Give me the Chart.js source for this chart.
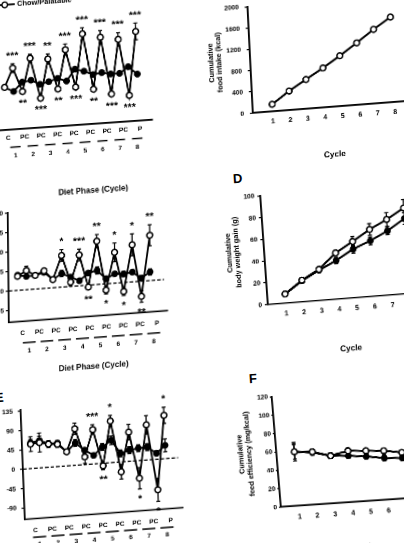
<!DOCTYPE html>
<html><head><meta charset="utf-8">
<script src="https://cdn.jsdelivr.net/npm/chart.js@4.4.1/dist/chart.umd.min.js"></script>
<style>
html,body{margin:0;padding:0;background:#fff;}
body{width:404px;height:543px;overflow:hidden;position:relative;font-family:'Liberation Sans',Arial,sans-serif;}
.pnl{position:absolute;}
.pnl canvas{display:block;}
.lab{position:absolute;font-weight:bold;font-size:13px;line-height:13px;color:#000;transform:rotate(-4deg);}
</style></head><body>
<div class="lab" style="left:233px;top:172px">D</div>
<div class="lab" style="left:-4.7px;top:390.5px">E</div>
<div class="lab" style="left:249px;top:371.5px">F</div>
<script>
// ---------- DATA ----------
const phaseCategories = ['C','P','C','P','C','P','C','P','C','P','C','P','C','P','C','P'];
const phaseTickLabels = ['C','PC','PC','PC','PC','PC','PC','PC','P'];
const cycleTickLabels = ['1','2','3','4','5','6','7','8'];
const cycles = [1,2,3,4,5,6,7,8];
const phaseIndex = phaseCategories.map((_, i) => i);

// Panel A (intake per diet phase; y axis cropped in source)
const aPalatable    = [64,92,56,105,44,102,56,114,57,136,52,129,43,124,39,134];
const aPalatableErr = [3,6.5,3,6,2,7.5,3,8.5,3,9,3,10,3,10,3,12.5];
const aChow         = [64,57,70,72,65,68,72,67,84,80,74,76,73,73,82,70];
const aChowErr      = [3,3,3,3,3,3,3,3,3,3,3,3,3,3,3,3];
const aSig          = ['','***','**','***','***','**','**','***','***','***','**','***','***','***','***','***'];

// Panel C
const cPalatable    = [3.6,4.9,3.5,4.5,2.1,8.1,1.1,7.9,-0.5,11.1,-1.6,7.9,-2.3,9.5,-3.9,11.6];
const cPalatableErr = [0.6,1.1,0.5,0.6,0.5,1.5,0.9,1.5,0.6,1.7,1.0,2.4,1.0,2.8,1.5,2.7];
const cChow         = [3.9,3.4,3.5,4.1,2.1,3.5,2.4,1.3,3.1,3.6,1.3,2.4,2.2,2.5,0.8,2.2];
const cChowErr      = [0.6,0.6,0.5,0.6,0.5,0.8,0.6,0.6,0.6,0.9,0.7,0.6,0.7,0.6,0.7,0.8];
const cSig          = ['','','','','','*','','***','**','**','*','*','*','*','**','**'];
const cYTicks       = [-5,0,5,10,15,20];

// Panel E
const ePalatable    = [57,59,54,52,33,85,18,80,-6,97,-23,68,-41,82,-71,101];
const ePalatableErr = [17,22,8,7,5,13,15,11.5,9,13,17,18,25,21.5,27,19];
const eChow         = [60,64,55,55,33,52,34,20,38,52,20,26,29,30,14,31];
const eChowErr      = [8,10,6,6,4,8,6,6,8,10,8,8,8,8,6,15];
const eSig          = ['','','','','','','','***','**','*','','','*','','*','*'];
const eYTicks       = [-90,-45,0,45,90,135];

// Panel B – cumulative food intake (kcal)
const bPalatable    = [136,360,553,744,950,1167,1396,1603];
const bYTicks       = [0,400,800,1200,1600,2000];

// Panel D – cumulative body weight gain (g)
const dPalatable    = [8.4,19.8,28.6,42.4,51.7,61.5,69.4,78.7];
const dPalatableErr = [1,1,1.5,2,4.5,5.4,6.3,7.8];
const dChow         = [8.2,19.2,27.7,35.5,44.7,51.1,58.9,69];
const dChowErr      = [1,1,1.5,3,3.6,3.6,3.6,5.4];
const dYTicks       = [0,20,40,60,80,100];

// Panel F – cumulative feed efficiency (mg/kcal)
const fPalatable    = [58.9,57.5,51.9,56,54.7,53.4,50.3,50];
const fPalatableErr = [10,3,3,3,3,3,3,3];
const fChow         = [58.9,56.8,51.9,50.6,48.5,45.5,44.2,44];
const fChowErr      = [8,3,3,3,3,3,3,3];
const fYTicks       = [0,20,40,60,80,100,120];

// ---------- SETUP ----------
const FAMILY = "'Liberation Sans', Arial, Helvetica, sans-serif";
const K = '#000';
Chart.defaults.font.family = FAMILY;
Chart.defaults.font.weight = 'bold';
Chart.defaults.font.size = 7;
Chart.defaults.color = K;
Chart.defaults.animation = false;

const annotPlugin = {
  id: 'annot',
  beforeDatasetsDraw(chart) {
    const an = chart.canvas._annot; if (!an) return;
    const ctx = chart.ctx, a = chart.chartArea, ys = chart.scales.y;
    ctx.save();
    ctx.strokeStyle = K;
    if (an.zeroLine) {
      const y0 = ys.getPixelForValue(0);
      ctx.setLineDash([3.5, 2]); ctx.lineWidth = 1.3;
      ctx.beginPath(); ctx.moveTo(a.left, y0); ctx.lineTo(a.right - 3, y0); ctx.stroke();
      ctx.setLineDash([]);
    }
    chart.data.datasets.forEach((ds, di) => {
      if (!ds.errors) return;
      const meta = chart.getDatasetMeta(di);
      ctx.lineWidth = 1.2;
      meta.data.forEach((el, i) => {
        const e = ds.errors[i]; if (!e) return;
        const v = ds.data[i].y;
        const yt = ys.getPixelForValue(v + e), yb = ys.getPixelForValue(v - e);
        const cp = 2;
        ctx.beginPath();
        ctx.moveTo(el.x, yt); ctx.lineTo(el.x, yb);
        ctx.moveTo(el.x - cp, yt); ctx.lineTo(el.x + cp, yt);
        ctx.moveTo(el.x - cp, yb); ctx.lineTo(el.x + cp, yb);
        ctx.stroke();
      });
    });
    ctx.restore();
  },
  afterDraw(chart) {
    const an = chart.canvas._annot; if (!an) return;
    const ctx = chart.ctx, a = chart.chartArea, ys = chart.scales.y;
    ctx.save();
    ctx.fillStyle = K; ctx.strokeStyle = K;
    chart.data.datasets.forEach((ds, di) => {
      if (!ds.sig) return;
      const ref = chart.data.datasets[ds.sigRef];
      const meta = chart.getDatasetMeta(di);
      ctx.font = 'bold 10.5px ' + FAMILY;
      ctx.textAlign = 'center'; ctx.textBaseline = 'alphabetic';
      meta.data.forEach((el, i) => {
        const s = ds.sig[i]; if (!s) return;
        const v = ds.data[i].y, e = (ds.errors && ds.errors[i]) || 0;
        const above = v > ref.data[i].y;
        const yc = above ? ys.getPixelForValue(v + e) - 11 : ys.getPixelForValue(v - e) + 7;
        ctx.fillText(s, el.x, yc + 6);
      });
    });
    if (an.underline) {
      const u = an.underline, sc = chart.scales[u.scale];
      ctx.lineWidth = 1.4;
      u.values.forEach(n => {
        const x1 = sc.getPixelForValue(n - u.half), x2 = sc.getPixelForValue(n + u.half);
        const y = a.bottom + u.dy;
        ctx.beginPath(); ctx.moveTo(x1, y); ctx.lineTo(x2, y); ctx.stroke();
      });
    }
    if (an.legend) {
      const L = an.legend, y = a.bottom + L.v;
      ctx.lineWidth = 1.8;
      ctx.beginPath(); ctx.moveTo(a.left + L.u0, y); ctx.lineTo(a.left + L.u1, y); ctx.stroke();
      ctx.beginPath(); ctx.arc(a.left + L.uc, y, 2.8, 0, Math.PI * 2);
      ctx.fillStyle = '#fff'; ctx.fill(); ctx.lineWidth = 1.4; ctx.stroke();
      ctx.fillStyle = K;
      ctx.font = 'bold ' + L.size + 'px ' + FAMILY;
      ctx.textAlign = 'left'; ctx.textBaseline = 'middle';
      ctx.fillText(L.text, a.left + L.tu, y);
    }
    (an.texts || []).forEach(t => {
      ctx.font = 'bold ' + t.size + 'px ' + FAMILY;
      ctx.textAlign = 'center'; ctx.textBaseline = 'middle';
      ctx.fillText(t.text, a.left + t.u, a.bottom + t.v);
    });
    ctx.restore();
  }
};
Chart.register(annotPlugin);

function lineDS(label, values, errors, xs, open, extra) {
  return Object.assign({
    label,
    data: values.map((y, i) => ({ x: xs[i], y })),
    errors,
    borderColor: K,
    backgroundColor: open ? '#fff' : K,
    borderWidth: 1.8,
    pointRadius: 2.9,
    pointBorderWidth: open ? 1.5 : 1,
    pointBackgroundColor: open ? '#fff' : K,
    pointBorderColor: K,
    tension: 0,
    fill: false
  }, extra || {});
}

function mountPanel(g, config, annot) {
  const W = Math.ceil(g.padL + g.Wy + g.Pw + g.padR), H = Math.ceil(g.padT + g.Ph + g.Hx + g.padB);
  const pr = W - (g.padL + g.Wy + g.Pw), pb = H - (g.padT + g.Ph + g.Hx);
  const ox = g.padL + g.Wy, oy = g.padT + g.Ph;
  const div = document.createElement('div'); div.className = 'pnl';
  div.style.left = (g.O[0] - ox) + 'px'; div.style.top = (g.O[1] - oy) + 'px';
  div.style.width = W + 'px'; div.style.height = H + 'px';
  div.style.transformOrigin = ox + 'px ' + oy + 'px';
  div.style.transform = 'matrix(1,' + g.b + ',' + g.c + ',1,0,0)';
  const cv = document.createElement('canvas');
  cv.width = W; cv.height = H; cv.style.width = W + 'px'; cv.style.height = H + 'px';
  div.appendChild(cv); document.body.appendChild(div);
  cv._annot = annot;
  config.options = config.options || {};
  config.options.layout = { autoPadding: false, padding: { left: g.padL, top: g.padT, right: pr, bottom: pb } };
  config.options.responsive = false;
  config.options.devicePixelRatio = 2;
  config.options.animation = false;
  config.options.plugins = { legend: { display: false }, tooltip: { enabled: false } };
  return new Chart(cv, config);
}

function dataAxis(min, max) {
  return { type: 'linear', position: 'bottom', min, max, weight: 0,
    grid: { display: false, drawTicks: false }, border: { display: true, width: 1.6, color: K },
    ticks: { display: false }, afterFit: s => { s.height = 0; } };
}
function phaseAxis(min, max, pad, h) {
  return { type: 'linear', axis: 'x', position: 'bottom', min, max, weight: 1,
    grid: { display: false, drawTicks: false }, border: { display: false },
    afterBuildTicks: s => { s.ticks = phaseTickLabels.map((_, i) => ({ value: i })); },
    ticks: { autoSkip: false, maxRotation: 0, padding: pad, font: { size: 6.5 },
      callback: v => phaseTickLabels[Math.round(v)] },
    afterFit: s => { s.height = h; } };
}
function cycleAxis(min, max, pad, h) {
  return { type: 'linear', axis: 'x', position: 'bottom', min, max, weight: 2,
    grid: { display: false, drawTicks: false }, border: { display: false },
    afterBuildTicks: s => { s.ticks = cycles.map(v => ({ value: v })); },
    ticks: { autoSkip: false, maxRotation: 0, padding: pad, font: { size: 6.5 },
      callback: v => cycleTickLabels[Math.round(v) - 1] },
    afterFit: s => { s.height = h; } };
}
function yAxis(min, max, tickVals, w, tl, pad, title) {
  return { type: 'linear', position: 'left', min, max,
    afterBuildTicks: s => { s.ticks = tickVals.map(v => ({ value: v })); },
    grid: { display: true, drawOnChartArea: false, drawTicks: true, tickLength: tl, color: K, lineWidth: 1.1 },
    border: { display: true, width: 1.6, color: K },
    ticks: { padding: pad, font: { size: 6.5 }, callback: v => String(v) },
    title: title ? { display: true, text: title.text, font: { size: 7.3, weight: 'bold', lineHeight: title.lh },
      padding: { top: 1, bottom: 0 }, color: K } : { display: false },
    afterFit: s => { s.width = w; } };
}
function cycleDataAxis(min, max, pad, h) {
  return { type: 'linear', position: 'bottom', min, max,
    grid: { display: false, drawTicks: false }, border: { display: true, width: 1.6, color: K },
    afterBuildTicks: s => { s.ticks = cycles.map(v => ({ value: v })); },
    ticks: { autoSkip: false, maxRotation: 0, padding: pad, font: { size: 7 }, callback: v => String(v) },
    title: { display: true, text: 'Cycle', font: { size: 8.2, weight: 'bold' }, padding: { top: 0, bottom: 2.2 }, color: K },
    afterFit: s => { s.height = h; } };
}

// ---------- PANEL A ----------
mountPanel({ O: [-6.7, 130.6], Pw: 159.5, Ph: 120, Wy: 0, Hx: 36, padL: 4, padT: 12, padR: 4, padB: 35, b: -0.07, c: 0.04 }, {
  type: 'line',
  data: { datasets: [
    lineDS('Chow/Palatable', aPalatable, aPalatableErr, phaseIndex, true, { sig: aSig, sigRef: 1 }),
    lineDS('Chow/Chow', aChow, aChowErr, phaseIndex, false)
  ] },
  options: { scales: {
    x: dataAxis(-1.5, 16.5),
    xl: phaseAxis(-0.91, 8.78, 4.2, 16),
    xn: cycleAxis(-0.247, 8.92, 6.1, 20),
    y: { type: 'linear', display: false, min: 0, max: 180 }
  } }
}, {
  underline: { scale: 'xn', values: cycles, half: 0.3, dy: 17.5 },
  legend: { u0: 11.7, u1: 26.7, uc: 16.7, tu: 29, v: -125, text: 'Chow/Palatable', size: 7.4 },
  texts: [{ text: 'Diet Phase (Cycle)', u: 97.6, v: 66.5, size: 8 }]
});

// ---------- PANEL C ----------
mountPanel({ O: [9.3, 321.7], Pw: 158.4, Ph: 109.2, Wy: 30, Hx: 38, padL: 2, padT: 8, padR: 4, padB: 17, b: -0.074, c: 0.01 }, {
  type: 'line',
  data: { datasets: [
    lineDS('Chow/Palatable', cPalatable, cPalatableErr, phaseIndex, true, { sig: cSig, sigRef: 1 }),
    lineDS('Chow/Chow', cChow, cChowErr, phaseIndex, false)
  ] },
  options: { scales: {
    x: dataAxis(-1.02, 16.92),
    xl: phaseAxis(-0.80, 8.63, 8.2, 18),
    xn: cycleAxis(-0.12, 8.78, 8.1, 20),
    y: yAxis(-8, 20, cYTicks, 30, 3, 2, null)
  } }
}, {
  zeroLine: true,
  underline: { scale: 'xn', values: cycles, half: 0.36, dy: 21.6 },
  texts: [{ text: 'Diet Phase (Cycle)', u: 84.2, v: 50.5, size: 8 }]
});

// ---------- PANEL E ----------
mountPanel({ O: [24.5, 519.5], Pw: 158, Ph: 109.4, Wy: 30, Hx: 36, padL: 2, padT: 10, padR: 4, padB: 20, b: -0.074, c: 0.039 }, {
  type: 'line',
  data: { datasets: [
    lineDS('Chow/Palatable', ePalatable, ePalatableErr, phaseIndex, true, { sig: eSig, sigRef: 1 }),
    lineDS('Chow/Chow', eChow, eChowErr, phaseIndex, false)
  ] },
  options: { scales: {
    x: dataAxis(-0.94, 16.73),
    xl: phaseAxis(-0.6, 8.76, 7.7, 16),
    xn: cycleAxis(0.24, 8.92, 6.1, 20),
    y: yAxis(-117, 138, eYTicks, 30, 3, 5, null)
  } }
}, {
  zeroLine: true,
  underline: { scale: 'xn', values: cycles, half: 0.36, dy: 18.5 },
  texts: [{ text: 'Diet Phase (Cycle)', u: 84, v: 50, size: 8 }]
});

// ---------- PANEL B ----------
mountPanel({ O: [253.3, 113.3], Pw: 159.1, Ph: 111, Wy: 44, Hx: 55, padL: 2, padT: 5, padR: 2, padB: 2, b: -0.077, c: 0.05 }, {
  type: 'line',
  data: { datasets: [
    lineDS('Chow/Palatable', bPalatable, null, cycles, true, { borderWidth: 2 })
  ] },
  options: { scales: {
    x: cycleDataAxis(-0.12, 9, 5.8, 55),
    y: yAxis(0, 2000, bYTicks, 44, 3, 6, { text: ['Cumulative', 'food intake (kcal)'], lh: 1.1 })
  } }
}, {});

// ---------- PANEL D ----------
mountPanel({ O: [267.7, 304], Pw: 159.3, Ph: 110.5, Wy: 40, Hx: 57.6, padL: 2, padT: 5, padR: 2, padB: 2, b: -0.078, c: 0.07 }, {
  type: 'line',
  data: { datasets: [
    lineDS('Chow/Palatable', dPalatable, dPalatableErr, cycles, true, { borderWidth: 2 }),
    lineDS('Chow/Chow', dChow, dChowErr, cycles, false, { borderWidth: 2 })
  ] },
  options: { scales: {
    x: cycleDataAxis(0, 9, 6.5, 57.6),
    y: yAxis(0, 100, dYTicks, 40, 3, 3, { text: ['Cumulative', 'body weight gain (g)'], lh: 1.1 })
  } }
}, {});

// ---------- PANEL F ----------
mountPanel({ O: [281, 506.7], Pw: 160.2, Ph: 111, Wy: 41, Hx: 52.8, padL: 2, padT: 5, padR: 2, padB: 2, b: -0.068, c: 0.083 }, {
  type: 'line',
  data: { datasets: [
    lineDS('Chow/Palatable', fPalatable, fPalatableErr, cycles, true, { borderWidth: 2 }),
    lineDS('Chow/Chow', fChow, fChowErr, cycles, false, { borderWidth: 2 })
  ] },
  options: { scales: {
    x: cycleDataAxis(0, 9, 6.8, 52.8),
    y: yAxis(0, 120, fYTicks, 41, 2, 2, { text: ['Cumulative', 'feed efficiency (mg/kcal)'], lh: 1.18 })
  } }
}, {});
</script>
</body></html>
